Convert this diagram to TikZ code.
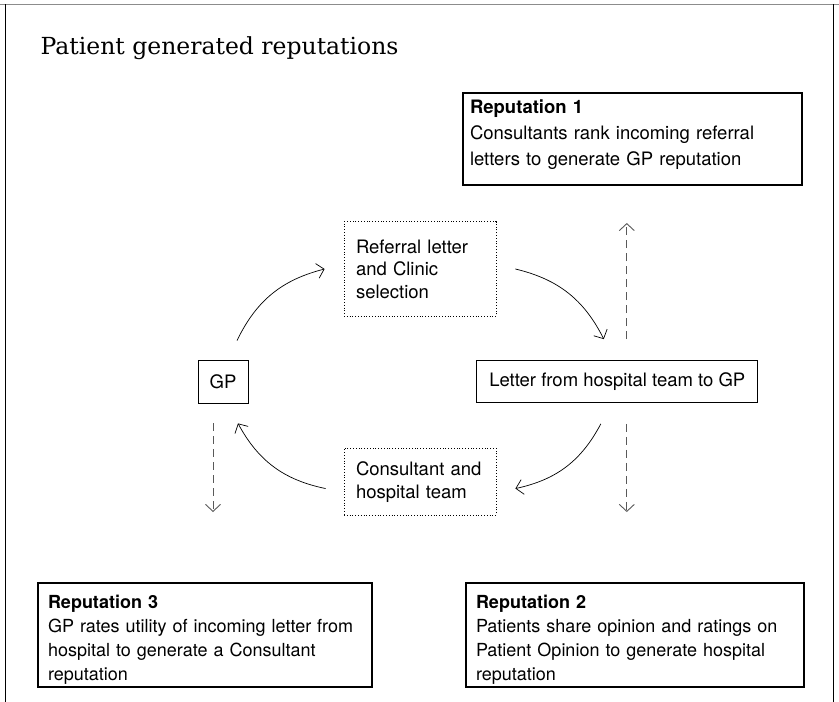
\documentclass[tikz,border=0pt]{standalone}
\usepackage{fontspec}
\setmainfont{TeX Gyre Heros}
\newfontfamily\titlefont{DejaVu Serif}
\usetikzlibrary{arrows.meta,positioning}
\newcommand\topgap[1]{\rule{0pt}{#1}}
\newcommand\botgap[1]{\rule[-#1]{0pt}{#1}}

\begin{document}
\begin{tikzpicture}[->,>={Straight Barb[length=7pt,width=15pt]},x=1pt,y=1pt,
                    line width=0.7pt,font=\fontsize{18.5}{22.5}\selectfont]
    \tikzset{repbox/.style={draw,-,line width=2pt,align=left,inner xsep=10pt,
                            inner ysep=0pt,font=\fontsize{18}{24}\selectfont},
             stagebox/.style={draw,-,dotted,line width=0.8pt,align=left,inner xsep=12pt,
                              inner ysep=0pt,text width=128pt},
             actorbox/.style={draw,-,line width=0.8pt,inner sep=0pt},
             flow/.style={->,black,line width=0.7pt},
             feed/.style={->,black!65,line width=0.9pt,dash pattern=on 8pt off 5pt}}
    \useasboundingbox (0,0) rectangle (839,-702);
    \draw[-,black!45] (0,-4) -- (839,-4);
    \draw[-] (5,-4) -- (5,-702) (833,-4) -- (833,-702);
    \node[anchor=base west,font=\titlefont\fontsize{23.5}{28}\selectfont] (title) at (37,-54)
        {Patient generated reputations};
    \node[repbox,inner xsep=7pt,text width=325pt,font=\fontsize{18.5}{26}\selectfont] (rep1) at (632.5,-139)
        {\topgap{20.5pt}\textbf{Reputation 1}\\Consultants rank incoming referral\\
         letters to generate GP reputation\botgap{19.5pt}};
    \node[stagebox] (ref) at (420,-269)
        {\topgap{31.5pt}Referral letter\\and Clinic\\selection\botgap{18pt}};
    \node[stagebox,below=131pt of ref] (cons)
        {\topgap{27.5pt}Consultant and\\hospital team\botgap{17pt}};
    \node[actorbox,minimum width=50pt,minimum height=43pt] (gp) at (223,-381.5) {GP};
    \node[actorbox,minimum width=281pt,minimum height=42pt,right=228pt of gp] (letter)
        {Letter from hospital team to GP};
    \node[repbox,text width=314pt] (rep3) at (205,-635)
        {\topgap{25pt}\textbf{Reputation 3}\\GP rates utility of incoming letter from\\
         hospital to generate a Consultant\\reputation\botgap{7pt}};
    \node[repbox,text width=318pt,right=92pt of rep3] (rep2)
        {\topgap{25pt}\textbf{Reputation 2}\\Patients share opinion and ratings on\\
         Patient Opinion to generate hospital\\reputation\botgap{7pt}};
    \draw[flow] ([xshift=14pt,yshift=19pt]gp.north) to[bend left=25] ([xshift=-19pt]ref.west);
    \draw[flow] ([xshift=19pt]ref.east) to[bend left=25] ([xshift=-13.5pt,yshift=21pt]letter.north);
    \draw[flow] ([xshift=-16.5pt,yshift=-21pt]letter.south) to[bend left=25] ([xshift=19pt,yshift=-7pt]cons.east);
    \draw[flow] ([xshift=-18pt,yshift=-7pt]cons.west) to[bend left=25] ([xshift=15pt,yshift=-20pt]gp.south);
    \draw[feed,shorten <=21pt,shorten >=37pt] ([xshift=9.5pt]letter.north) -- ([xshift=9.5pt]letter.north |- rep1.south);
    \draw[feed,shorten <=21pt,shorten >=70pt] ([xshift=9.5pt]letter.south) -- ([xshift=9.5pt]letter.south |- rep2.north);
    \draw[feed,shorten <=20pt,shorten >=70pt] ([xshift=-10pt]gp.south) -- ([xshift=-10pt]gp.south |- rep3.north);
\end{tikzpicture}
\end{document}
